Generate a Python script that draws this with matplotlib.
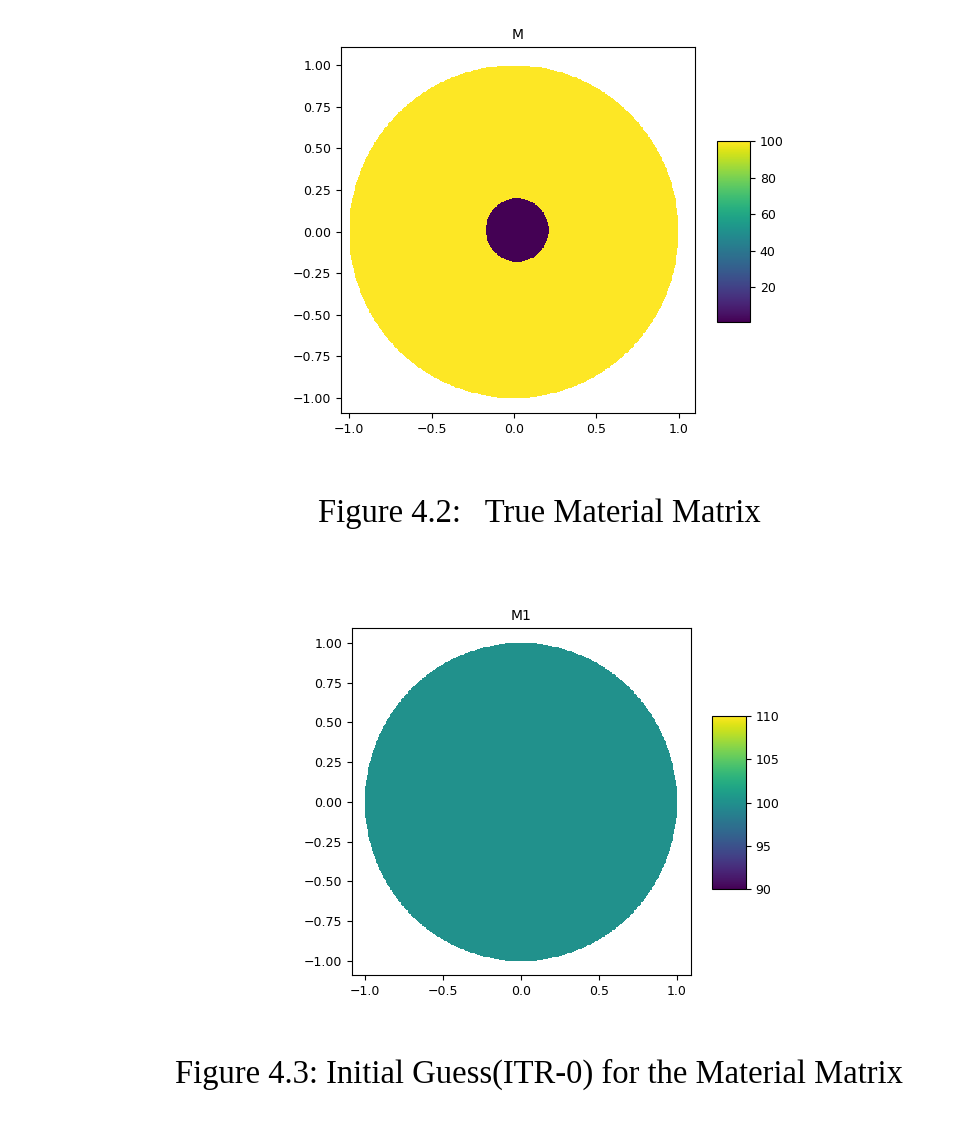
import numpy as np
import matplotlib
matplotlib.use("Agg")
from matplotlib import pyplot as plt
from matplotlib import ticker

# Material values
outer_radius = 1.0
inner_radius = 0.19
inner_center = [0.02, 0.01]
true_outer_value = 100.0
true_inner_value = 1.0
guess_value = 100.0
top_ticks = [20, 40, 60, 80, 100]
bottom_ticks = [90, 95, 100, 105, 110]

n = 400
gx = np.linspace(-1.0, 1.0, n)
X, Y = np.meshgrid(gx, gx)
R = np.hypot(X, Y)
Rin = np.hypot(X - inner_center[0], Y - inner_center[1])

M = np.where(R <= outer_radius, true_outer_value, np.nan)
M[Rin <= inner_radius] = true_inner_value
M1 = np.where(R <= outer_radius, guess_value, np.nan)

fig = plt.figure(figsize=(9.72, 11.28), dpi=100)
W, H = 972, 1128

def box(l, t, r, b):
    return [l / W, 1 - b / H, (r - l) / W, (b - t) / H]

def fmt(spec):
    return ticker.FuncFormatter(lambda v, p: (spec % v).replace("-", "\u2212"))

def style(ax):
    ax.set_xticks([-1.0, -0.5, 0.0, 0.5, 1.0])
    ax.set_yticks([-1.0, -0.75, -0.5, -0.25, 0.0, 0.25, 0.5, 0.75, 1.0])
    ax.yaxis.set_major_formatter(fmt("%.2f"))
    ax.xaxis.set_major_formatter(fmt("%.1f"))
    ax.tick_params(labelsize=9)

# Top figure
ax = fig.add_axes(box(341, 47, 695, 413))
im1 = ax.pcolormesh(X, Y, M, cmap="viridis", vmin=1, vmax=100, shading="auto")
ax.set_xlim(-1.05, 1.10)
ax.set_ylim(-1.09, 1.11)
ax.set_title("M", fontsize=10)
style(ax)
cax = fig.add_axes(box(717, 141, 750, 322))
cb = fig.colorbar(im1, cax=cax, ticks=top_ticks)
cb.ax.tick_params(labelsize=9)

# Bottom figure
ax2 = fig.add_axes(box(352, 628, 691, 975))
im2 = ax2.pcolormesh(X, Y, M1, cmap="viridis", vmin=90, vmax=110, shading="auto")
ax2.set_xlim(-1.083, 1.09)
ax2.set_ylim(-1.088, 1.094)
ax2.set_title("M1", fontsize=10)
style(ax2)
cax2 = fig.add_axes(box(712, 716, 746, 889))
cb2 = fig.colorbar(im2, cax=cax2, ticks=bottom_ticks)
cb2.ax.tick_params(labelsize=9)

fig.text(539 / W, 1 - 514 / H, "Figure 4.2:   True Material Matrix",
         ha="center", va="center", fontsize=23.5, family="Liberation Serif")
fig.text(539 / W, 1 - 1074 / H, "Figure 4.3: Initial Guess(ITR-0) for the Material Matrix",
         ha="center", va="center", fontsize=23.5, family="Liberation Serif")

fig.savefig("out.png", dpi=100)
